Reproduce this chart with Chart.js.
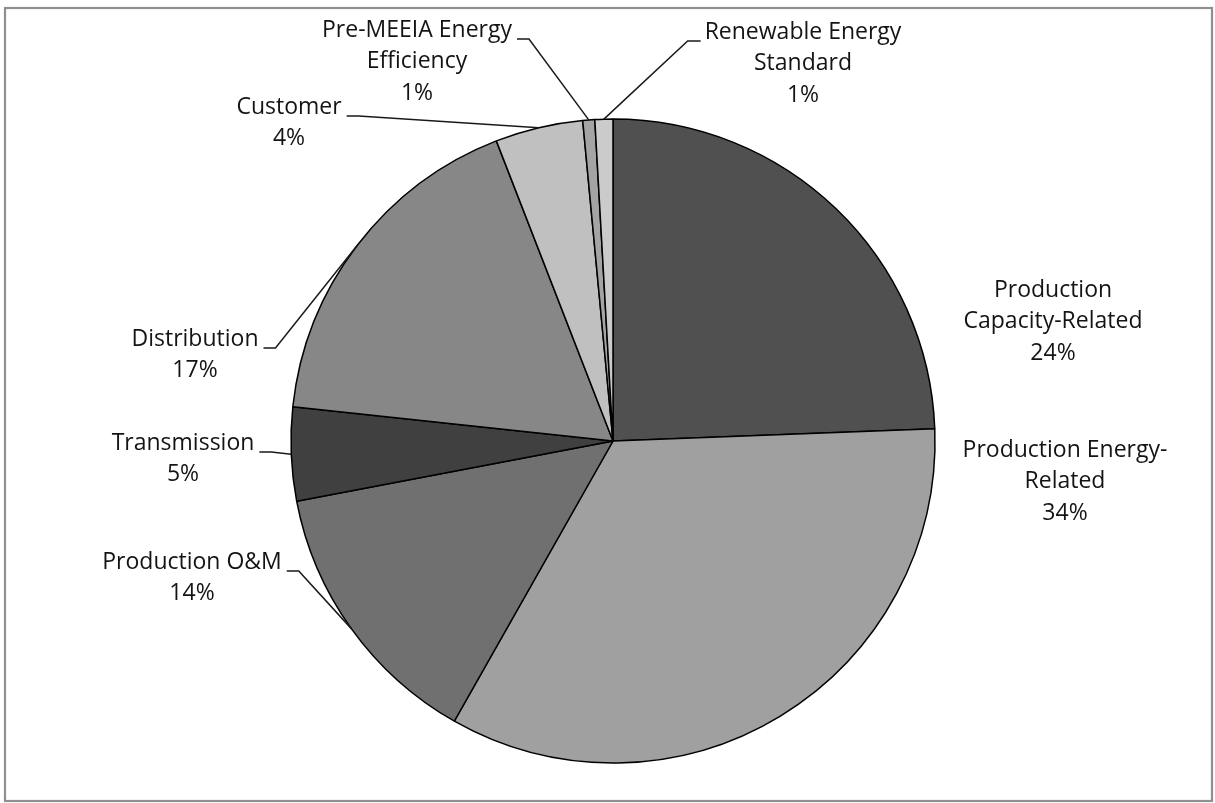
<!DOCTYPE html>
<html>
<head>
<meta charset="utf-8">
<script src="https://cdn.jsdelivr.net/npm/chart.js@4.4.0/dist/chart.umd.min.js"></script>
<style>
  html, body { margin: 0; padding: 0; background: #ffffff; }
  canvas { display: block; }
</style>
</head>
<body>
<canvas id="chart" width="1215" height="803"></canvas>
<script>
// Revenue requirement components (share of total, %)
const categories = [
  'Production Capacity-Related',
  'Production Energy-Related',
  'Production O&M',
  'Transmission',
  'Distribution',
  'Customer',
  'Pre-MEEIA Energy Efficiency',
  'Renewable Energy Standard'
];
const shares = [24.4, 33.8, 13.8, 4.7, 17.4, 4.4, 0.6, 0.9];
const labelLines = [
  ['Production', 'Capacity-Related'],
  ['Production Energy-', 'Related'],
  ['Production O&M'],
  ['Transmission'],
  ['Distribution'],
  ['Customer'],
  ['Pre-MEEIA Energy', 'Efficiency'],
  ['Renewable Energy', 'Standard']
];
const sliceColors = ['#505050', '#a0a0a0', '#707070', '#404040', '#878787', '#c0c0c0', '#a4a4a4', '#cbcbcb'];

const FONT = '23px "Open Sans", Lato, sans-serif';
const LINE_H = 31.7;

// Where each category label sits, and which side its leader line leaves from
const labelLayout = [
  { x: 1053, y: 290, leader: null },
  { x: 1065, y: 450, leader: null },
  { x: 192,  y: 562, leader: 'right' },
  { x: 183,  y: 443, leader: 'right' },
  { x: 195,  y: 339, leader: 'right' },
  { x: 289,  y: 107, leader: 'right' },
  { x: 417,  y: 30,  leader: 'right' },
  { x: 803,  y: 32,  leader: 'left' }
];

const frame = {
  id: 'frame',
  beforeDraw(chart) {
    const ctx = chart.ctx;
    ctx.save();
    ctx.fillStyle = '#ffffff';
    ctx.fillRect(0, 0, chart.width, chart.height);
    ctx.strokeStyle = '#8f8f8f';
    ctx.lineWidth = 2.2;
    ctx.strokeRect(5, 8, 1207, 793);
    ctx.restore();
  }
};

const sliceLabels = {
  id: 'sliceLabels',
  afterDatasetsDraw(chart) {
    const ctx = chart.ctx;
    const meta = chart.getDatasetMeta(0);
    const total = shares.reduce((a, b) => a + b, 0);
    ctx.save();
    ctx.font = FONT;
    ctx.textAlign = 'center';
    ctx.textBaseline = 'middle';
    meta.data.forEach((arc, i) => {
      const p = arc.getProps(['x', 'y', 'startAngle', 'endAngle', 'outerRadius'], true);
      const mid = (p.startAngle + p.endAngle) / 2;
      const ax = p.x + Math.cos(mid) * p.outerRadius;
      const ay = p.y + Math.sin(mid) * p.outerRadius;
      const lay = labelLayout[i];
      const lines = labelLines[i].concat([Math.round(shares[i] / total * 100) + '%']);

      if (lay.leader) {
        const w = ctx.measureText(lines[0]).width;
        const ly = lay.y + 9;
        let x0, x1;
        if (lay.leader === 'right') {
          x0 = lay.x + w / 2 + 5;
          x1 = x0 + 12;
        } else {
          x0 = lay.x - w / 2 - 4;
          x1 = x0 - 13;
        }
        ctx.beginPath();
        ctx.moveTo(x0, ly);
        ctx.lineTo(x1, ly);
        ctx.lineTo(ax, ay);
        ctx.strokeStyle = '#1a1a1a';
        ctx.lineWidth = 1.5;
        ctx.stroke();
      }

      ctx.fillStyle = '#141414';
      lines.forEach((t, k) => ctx.fillText(t, lay.x, lay.y + k * LINE_H));
    });
    ctx.restore();
  }
};

new Chart(document.getElementById('chart'), {
  type: 'pie',
  data: {
    labels: categories,
    datasets: [{
      data: shares,
      backgroundColor: sliceColors,
      borderColor: '#000000',
      borderWidth: 1.5
    }]
  },
  options: {
    responsive: false,
    animation: false,
    radius: 322,
    layout: { padding: { left: 200, right: 189, top: 100, bottom: 21 } },
    plugins: {
      legend: { display: false },
      tooltip: { enabled: false }
    }
  },
  plugins: [frame, sliceLabels]
});
</script>
</body>
</html>
